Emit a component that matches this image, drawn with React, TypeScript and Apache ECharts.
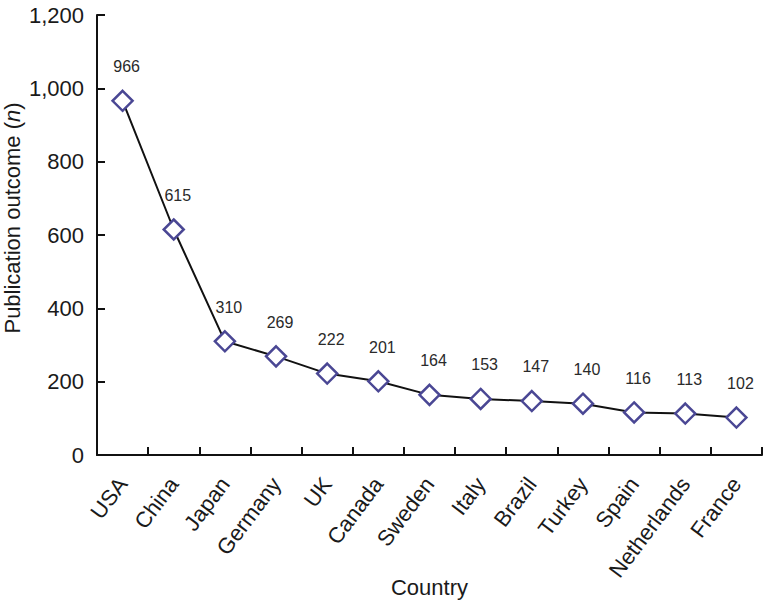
import React, { useEffect, useRef } from "react";
import * as echarts from "echarts";

const countries = ["USA", "China", "Japan", "Germany", "UK", "Canada", "Sweden", "Italy", "Brazil", "Turkey", "Spain", "Netherlands", "France"];
const publications = [966, 615, 310, 269, 222, 201, 164, 153, 147, 140, 116, 113, 102];
const yTicks = { min: 0, max: 1200, interval: 200 };

const FONT = "Liberation Sans, Arial, sans-serif";

function fmt(v: number) {
  return String(v).replace(/\B(?=(\d{3})+(?!\d))/g, ",");
}

export default function App() {
  const ref = useRef<HTMLDivElement>(null);
  useEffect(() => {
    if (!ref.current) return;
    const chart = echarts.init(ref.current, null, { renderer: "svg" });
    chart.setOption({
      animation: false,
      backgroundColor: "#ffffff",
      textStyle: { fontFamily: FONT },
      grid: { left: 97, right: 3, top: 15, bottom: 149, outerBoundsMode: "none" },
      xAxis: {
        type: "category",
        data: countries,
        name: "Country",
        nameLocation: "middle",
        nameGap: 121,
        nameMoveOverlap: false,
        nameTextStyle: { fontSize: 22, color: "#1a1a1a", fontFamily: FONT },
        axisLine: { lineStyle: { color: "#111", width: 2 } },
        axisTick: { show: true, inside: true, length: 8, interval: 0, alignWithLabel: false, lineStyle: { color: "#111", width: 2 } },
        axisLabel: { rotate: 53, fontSize: 22, color: "#1a1a1a", margin: 25, fontFamily: FONT, interval: 0 },
        splitLine: { show: false },
      },
      yAxis: {
        type: "value",
        min: yTicks.min,
        max: yTicks.max,
        interval: yTicks.interval,
        name: "{a|Publication outcome (}{b|n}{a|)}",
        nameLocation: "middle",
        nameRotate: 90,
        nameGap: 74,
        nameMoveOverlap: false,
        nameTextStyle: {
          padding: [0, 0, 0, 34],
          rich: {
            a: { fontSize: 22, color: "#1a1a1a", fontFamily: FONT },
            b: { fontSize: 22, color: "#1a1a1a", fontFamily: FONT, fontStyle: "italic" },
          },
        },
        axisLine: { show: true, lineStyle: { color: "#111", width: 2 } },
        axisTick: { show: true, inside: true, length: 8, lineStyle: { color: "#111", width: 2 } },
        axisLabel: { fontSize: 22, color: "#1a1a1a", margin: 13, fontFamily: FONT, formatter: (v: number) => fmt(v) },
        splitLine: { show: false },
      },
      series: [
        {
          type: "line",
          data: publications,
          symbol: "diamond",
          symbolSize: 20,
          lineStyle: { color: "#111", width: 2 },
          itemStyle: { color: "#ffffff", borderColor: "#4a4794", borderWidth: 2.5 },
          label: {
            show: true,
            position: "top",
            distance: 15,
            offset: [4, 0],
            fontSize: 16,
            color: "#2a2a2a",
            fontFamily: FONT,
          },
          z: 3,
        },
      ],
    });
    return () => chart.dispose();
  }, []);
  return <div ref={ref} style={{ position: "absolute", left: 0, top: 0, width: 765, height: 604 }} />;
}
